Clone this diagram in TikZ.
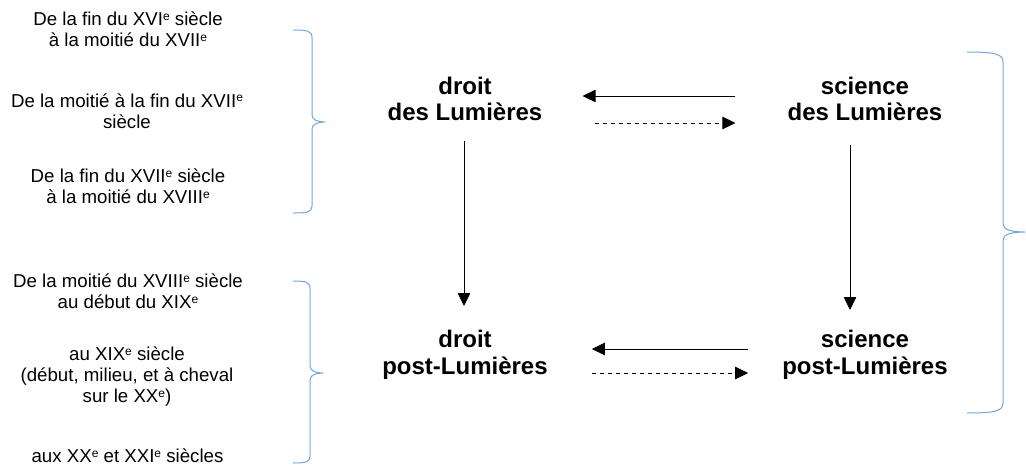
\documentclass[tikz,border=0pt]{standalone}
\usepackage{fontspec}
\setmainfont{Liberation Sans}
\usetikzlibrary{arrows.meta,calc}
\definecolor{bracecol}{RGB}{112,166,220}
\newcommand\expo[1]{\raisebox{5.5pt}{\fontsize{12}{12}\selectfont #1}}
\begin{document}
\begin{tikzpicture}[x=1pt,y=-1pt,
  period/.style={inner sep=0pt,align=center,font=\fontsize{18.67}{21}\selectfont},
  concept/.style={inner sep=0pt,align=center,font=\fontsize{24}{26.5}\selectfont\bfseries},
  solidarrow/.style={line width=0.8pt,-{Triangle[length=13pt,width=12.5pt]}},
  dasharrow/.style={line width=0.8pt,dash pattern=on 4.5pt off 3.5pt,-{Triangle[length=13pt,width=12.5pt]}},
  bracestyle/.style={draw=bracecol,line width=1pt}]
\useasboundingbox (0,0) rectangle (1026,467);

% left period texts
\node[period] (p1) at (128,29.5) {De la fin du XVI\expo{e} siècle\\à la moitié du XVII\expo{e}};
\node[period] (p2) at (127,111) {De la moitié à la fin du XVII\expo{e}\\siècle};
\node[period] (p3) at (128,186.5) {De la fin du XVII\expo{e} siècle\\à la moitié du XVIII\expo{e}};
\node[period] (p4) at (128,291.5) {De la moitié du XVIII\expo{e} siècle\\au début du XIX\expo{e}};
\node[period] (p5) at (127,377) {au XIX\expo{e} siècle\\(début, milieu, et à cheval\\sur le XX\expo{e})};
\node[period] (p6) at (127.5,456) {aux XX\expo{e} et XXI\expo{e} siècles};

% concepts
\node[concept] (dl) at (465,99) {droit\\des Lumières};
\node[concept] (sl) at (865,99) {science\\des Lumières};
\node[concept] (dp) at (465,355) {droit\\post-Lumières};
\node[concept] (sp) at (865,355) {science\\post-Lumières};

% horizontal arrows
\draw[solidarrow] ($(sl.west)+(-52,-3)$) -- ($(dl.east)+(40,-3)$);
\draw[dasharrow] ($(dl.east)+(52,24)$) -- ($(sl.west)+(-52,24)$);
\draw[solidarrow] ($(sp.west)+(-34,-6)$) -- ($(dp.east)+(44,-6)$);
\draw[dasharrow] ($(dp.east)+(44,18)$) -- ($(sp.west)+(-34,18)$);

% vertical arrows
\draw[solidarrow] ($(dl.center)+(-1,42)$) -- ($(dp.center)+(-1,-49)$);
\draw[solidarrow] ($(sl.center)+(-15,46)$) -- ($(sp.center)+(-15,-45)$);

% braces
\draw[bracestyle] (293,30) .. controls (308,30) and (312,31) .. (312,38) -- (312,115)
  .. controls (312,120) and (318,122) .. (325,122) .. controls (318,122) and (312,124) .. (312,129)
  -- (312,206) .. controls (312,212) and (308,213) .. (293,213);
\draw[bracestyle] (293,281) .. controls (306,281) and (310,282) .. (310,289) -- (310,366)
  .. controls (310,371) and (316,373) .. (323,373) .. controls (316,373) and (310,375) .. (310,380)
  -- (310,456) .. controls (310,462) and (306,463) .. (293,463);
\draw[bracestyle] (967,52) .. controls (995,52) and (1003,54) .. (1003,62) -- (1003,224)
  .. controls (1003,230) and (1012,232) .. (1025,232) .. controls (1012,232) and (1003,234) .. (1003,240)
  -- (1003,403) .. controls (1003,411) and (995,413) .. (967,413);
\end{tikzpicture}
\end{document}
